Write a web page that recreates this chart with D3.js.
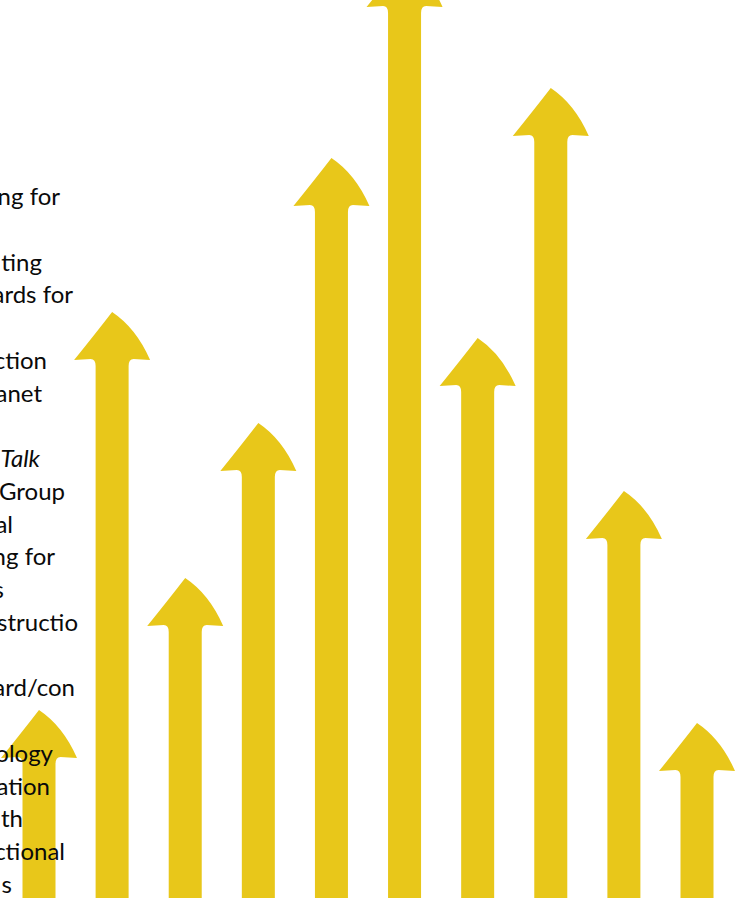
<!DOCTYPE html>
<html>
<head>
<meta charset="utf-8">
<script src="https://cdn.jsdelivr.net/npm/d3@7"></script>
<style>
  body { margin: 0; background: #fff; }
  svg { display: block; }
</style>
</head>
<body>
<svg id="chart" width="741" height="898"></svg>
<script>
// arrows, left to right - height of each tip above the bottom edge
var arrows = ["a1", "a2", "a3", "a4", "a5", "a6", "a7", "a8", "a9", "a10"];
var heights = [188, 586, 320, 475, 740, 939, 560, 810, 407, 175];

// text fragments showing at the left edge (blank = empty line)
var lines = ["ng for", "", "ting", "ards for", "", "ction", "anet", "",
  "Talk", "Group", "al", "ng for", "s", "structio", "", "ard/con", "",
  "ology", "ation", "th", "ctional", "s"];
var italicLines = ["Talk"];

// layout
var W = 741, H = 898;
var lineEnds = [60, 0, 42, 73, 0, 47, 42, 0, 40, 65, 13, 55, 4, 78, 0, 75, 0, 53, 50, 23, 65, 12];
var gold = "#e8c71a";

var svg = d3.select("#chart");

var x = d3.scalePoint().domain(arrows).range([39, 697]);
var y = d3.scaleLinear().domain([0, 1000]).range([H, H - 1000]);

var hw = 38, hh = 48, sw = 16.5;

function arrowPath(cx, tip) {
  var p = d3.path();
  p.moveTo(cx, tip);
  p.quadraticCurveTo(cx + 24, tip + 16, cx + hw, tip + hh);
  p.lineTo(cx + sw + 5, tip + hh - 1);
  p.quadraticCurveTo(cx + sw, tip + hh - 1, cx + sw, tip + hh + 6);
  p.lineTo(cx + sw, H + 2);
  p.lineTo(cx - sw, H + 2);
  p.lineTo(cx - sw, tip + hh + 6);
  p.quadraticCurveTo(cx - sw, tip + hh - 1, cx - sw - 5, tip + hh - 1);
  p.lineTo(cx - hw, tip + hh);
  p.quadraticCurveTo(cx - 17, tip + 22, cx, tip);
  p.closePath();
  return p.toString();
}

svg.append("g").selectAll("path")
  .data(arrows)
  .join("path")
  .attr("d", function(d, i) { return arrowPath(x(d), y(heights[i])); })
  .attr("fill", gold);

var ly = d3.scaleLinear().domain([0, 20]).range([197, 852]);

svg.append("g").selectAll("text")
  .data(lines)
  .join("text")
  .attr("x", function(d, i) { return lineEnds[i]; })
  .attr("y", function(d, i) { return ly(i) + 8; })
  .attr("text-anchor", "end")
  .attr("font-family", "Lato, 'Open Sans', sans-serif")
  .attr("font-size", "24px")
  .attr("font-style", function(d) { return italicLines.indexOf(d) >= 0 ? "italic" : "normal"; })
  .attr("fill", "#0a0a0a")
  .text(function(d) { return d; });
</script>
</body>
</html>
